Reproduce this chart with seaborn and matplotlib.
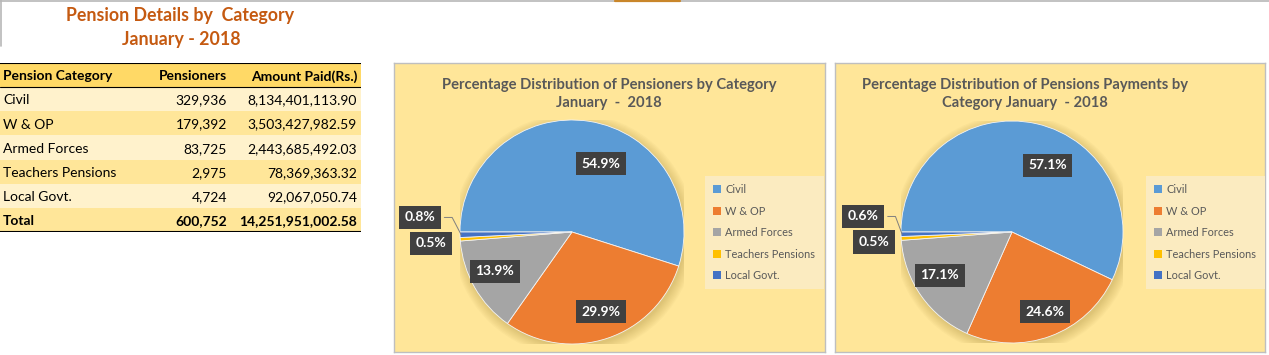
import matplotlib
matplotlib.use("Agg")
import numpy as np
import matplotlib.pyplot as plt
import seaborn as sns
from matplotlib.patches import Patch, Circle
from matplotlib.lines import Line2D

# === Data ===
categories = ["Civil", "W & OP", "Armed Forces", "Teachers Pensions", "Local Govt."]
pensioners = [329936, 179392, 83725, 2975, 4724]
amounts = [8134401113.90, 3503427982.59, 2443685492.03, 78369363.32, 92067050.74]

colors = ["#5B9BD5", "#ED7D31", "#A5A5A5", "#FFC000", "#4472C4"]

# === Style ===
sns.set_theme(style="white")
plt.rcParams["font.family"] = ["Lato", "DejaVu Sans"]

W, H = 1269, 355
fig = plt.figure(figsize=(W / 100, H / 100), dpi=100)
fig.patch.set_facecolor("white")


def px_axes(x0, y0, x1, y1, **kw):
    return fig.add_axes([x0 / W, 1 - y1 / H, (x1 - x0) / W, (y1 - y0) / H], **kw)


def fx(x):
    return x / W


def fy(y):
    return 1 - y / H


# window decoration lines at the top
fig.add_artist(Line2D([0, 1], [fy(0.5), fy(0.5)], color="#B7B7B7", lw=1.2))
fig.add_artist(Line2D([fx(615), fx(680)], [fy(0.5), fy(0.5)], color="#C9862A", lw=1.6))
fig.add_artist(Line2D([fx(0.5), fx(0.5)], [fy(0), fy(46)], color="#B7B7B7", lw=1.2))

# === Table title ===
title_color = "#C55A11"
fig.text(fx(180), fy(15), "Pension Details by  Category", ha="center", va="center",
         fontsize=12.8, fontweight="bold", color=title_color)
fig.text(fx(181), fy(39), "January - 2018", ha="center", va="center",
         fontsize=12.8, fontweight="bold", color=title_color)

# === Table ===
tab = px_axes(0, 63, 361, 232)
tab.set_xlim(0, 361)
tab.set_ylim(7, 0)
tab.axis("off")
row_fill = ["#FFD966", "#FFF2CC", "#FFE699", "#FFF2CC", "#FFE699", "#FFF2CC", "#FFE699"]
rows = [("Pension Category", "Pensioners", "Amount Paid(Rs.)")]
for c, p, a in zip(categories, pensioners, amounts):
    rows.append((c, f"{p:,}", f"{a:,.2f}"))
rows.append(("Total", f"{sum(pensioners):,}", f"{sum(amounts):,.2f}"))

for i, (c, p, a) in enumerate(rows):
    tab.axhspan(i, i + 1, color=row_fill[i], lw=0)
    bold = "bold" if i in (0, len(rows) - 1) else "normal"
    kw = dict(va="center", fontsize=10, color="black", fontweight=bold)
    tab.text(3, i + 0.55, c, ha="left", **kw)
    tab.text(227, i + 0.55, p, ha="right", **kw)
    tab.text(357, i + 0.55, a, ha="right", **kw)
tab.axhline(0, color="black", lw=1.5)
tab.axhline(1, color="black", lw=0.8)
tab.axhline(7, color="black", lw=1.5)

# === Pie charts ===
charts = [
    dict(values=pensioners, panel=(394, 63, 825, 352), center=(572, 232), radius=112,
         title=["Percentage Distribution of Pensioners by Category", "January  -  2018"],
         title_x=609, legend=(705, 176, 816, 289),
         label_pos=[(0.26, 0.61), (0.26, -0.71), (-0.69, -0.35), (-1.26, -0.10), (-1.36, 0.13)]),
    dict(values=amounts, panel=(835, 63, 1265, 352), center=(1012, 232), radius=111,
         title=["Percentage Distribution of Pensions Payments by", "Category January  - 2018"],
         title_x=1025, legend=(1146, 176, 1257, 289),
         label_pos=[(0.32, 0.60), (0.30, -0.72), (-0.65, -0.39), (-1.24, -0.09), (-1.34, 0.14)]),
]

for ch in charts:
    x0, y0, x1, y1 = ch["panel"]
    panel = px_axes(x0, y0, x1, y1)
    panel.set_facecolor("#FFE699")
    panel.set_xticks([])
    panel.set_yticks([])
    for s in panel.spines.values():
        s.set_color("#BFBFBF")
        s.set_linewidth(1)

    fig.text(fx(ch["title_x"]), fy(85), ch["title"][0], ha="center", va="center",
             fontsize=10.6, fontweight="bold", color="#595959")
    fig.text(fx(ch["title_x"]), fy(103), ch["title"][1], ha="center", va="center",
             fontsize=10.6, fontweight="bold", color="#595959")

    cx, cy = ch["center"]
    r = ch["radius"]
    ax = px_axes(cx - r, cy - r, cx + r, cy + r)
    ax.set_facecolor("none")

    # soft shadow behind the pie
    for k in range(8):
        ax.add_patch(Circle((0.015, -0.025), 1.0 + 0.012 * k, color="#8a6d1c",
                            alpha=0.035, lw=0, zorder=0))

    wedges, texts, autotexts = ax.pie(
        ch["values"], colors=colors, startangle=180, counterclock=False,
        autopct="%1.1f%%", pctdistance=0.7,
        wedgeprops=dict(linewidth=0.6, edgecolor="#F4F4F4"),
        textprops=dict(color="white", fontsize=10, fontweight="bold"),
    )
    ax.set_xlim(-1, 1)
    ax.set_ylim(-1, 1)
    ax.set_aspect("equal")
    ax.axis("off")

    for t, pos in zip(autotexts, ch["label_pos"]):
        t.set_position(pos)
        t.set_ha("center")
        t.set_va("center")
        t.set_bbox(dict(boxstyle="square,pad=0.4", fc="#404040", ec="none"))
        t.set_zorder(5)

    # leader line for the Local Govt. label
    w = wedges[-1]
    mid = np.deg2rad((w.theta1 + w.theta2) / 2)
    lx, ly = ch["label_pos"][-1]
    ax.plot([lx + 0.22, lx + 0.29, np.cos(mid) * 0.99], [ly, ly, np.sin(mid) * 0.99],
            color="#7F7F7F", lw=0.7, clip_on=False, zorder=4)

    # legend
    lx0, ly0, lx1, ly1 = ch["legend"]
    handles = [Patch(facecolor=c, edgecolor="none") for c in colors]
    leg = fig.legend(handles, categories, loc="upper left",
                     bbox_to_anchor=(fx(lx0), fy(ly0)), bbox_transform=fig.transFigure,
                     frameon=True, fontsize=7.9, handlelength=0.75, handleheight=0.75,
                     handletextpad=0.35, labelspacing=0.95, borderpad=0.75,
                     borderaxespad=0)
    frame = leg.get_frame()
    frame.set_facecolor("#FBEBC0")
    frame.set_edgecolor("none")
    frame.set_alpha(1)
    frame.set_boxstyle("square", pad=0)
    for txt in leg.get_texts():
        txt.set_color("#595959")

fig.savefig("out.png", dpi=100, facecolor="white")
